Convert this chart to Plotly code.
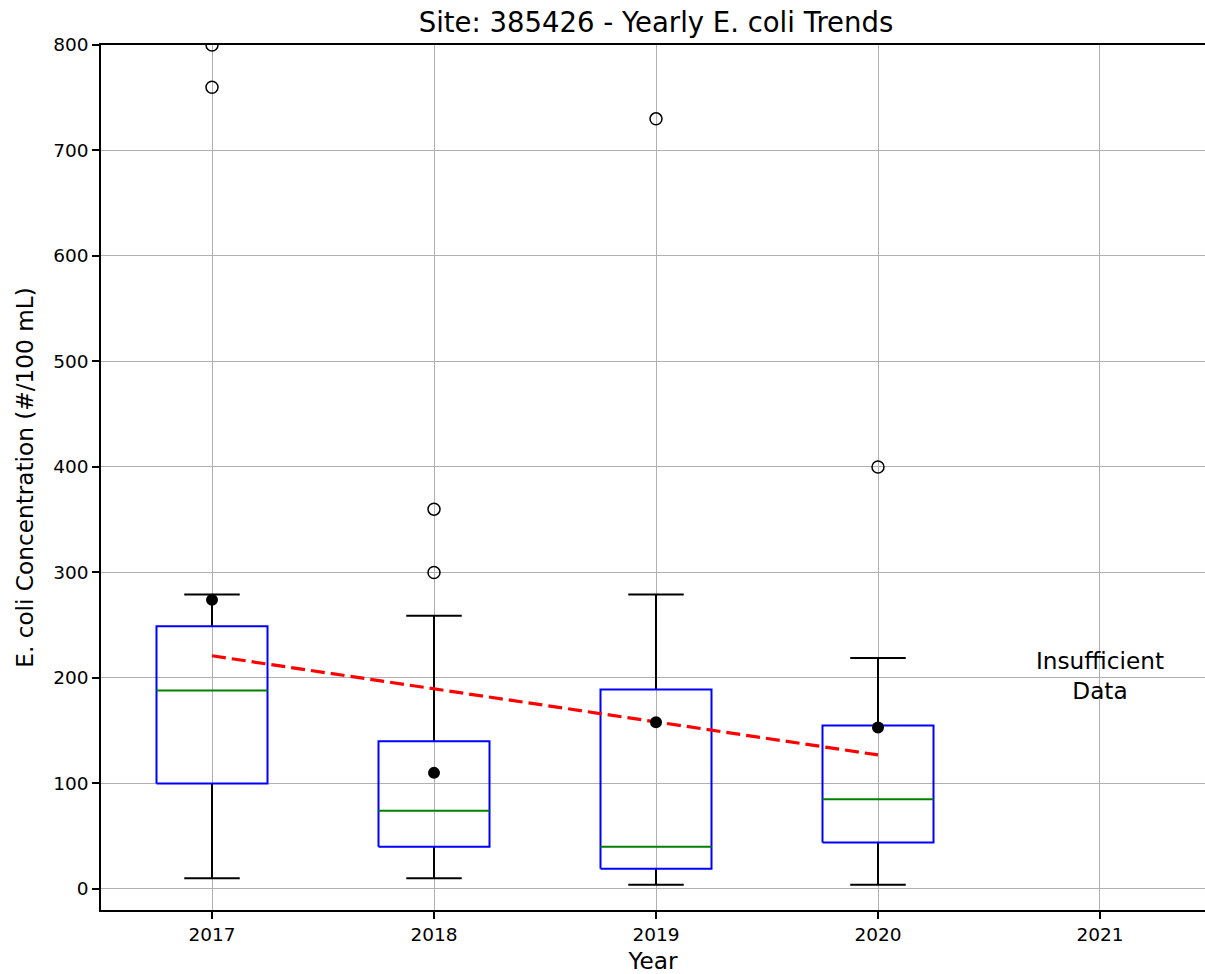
import plotly.graph_objects as go

# ---- data ----
years = [2017, 2018, 2019, 2020]
q1 = [100, 40, 19, 44]
medians = [188, 74, 40, 85]
q3 = [249, 140, 189, 155]
whisker_lo = [10, 10, 4, 4]
whisker_hi = [279, 259, 279, 219]
means = [274, 110, 158, 153]

outlier_years = [2017, 2017, 2018, 2018, 2019, 2020]
outlier_vals = [760, 800, 300, 360, 730, 400]

trend_years = [2017, 2020]
trend_vals = [221, 127]

tick_years = [2017, 2018, 2019, 2020, 2021]
y_ticks = [0, 100, 200, 300, 400, 500, 600, 700, 800]

note_year = 2021
note_val = 202
note_text = "Insufficient<br>Data"

# ---- style ----
BOX_W = 0.5
CAP_W = 0.25
FONT = "DejaVu Sans"
TICK_SIZE = 18.5
LABEL_SIZE = 23.2
TITLE_SIZE = 27.5

fig = go.Figure()

box_x, box_y = [], []
med_x, med_y = [], []
wh_x, wh_y = [], []
for yr, a, m, b, lo, hi in zip(years, q1, medians, q3, whisker_lo, whisker_hi):
    h = BOX_W / 2
    c = CAP_W / 2
    box_x += [yr - h, yr + h, yr + h, yr - h, yr - h, None]
    box_y += [a, a, b, b, a, None]
    med_x += [yr - h, yr + h, None]
    med_y += [m, m, None]
    wh_x += [yr, yr, None, yr, yr, None]
    wh_y += [a, lo, None, b, hi, None]
    wh_x += [yr - c, yr + c, None, yr - c, yr + c, None]
    wh_y += [lo, lo, None, hi, hi, None]

fig.add_trace(go.Scatter(x=wh_x, y=wh_y, mode="lines",
                         line=dict(color="black", width=2), hoverinfo="skip"))
fig.add_trace(go.Scatter(x=box_x, y=box_y, mode="lines",
                         line=dict(color="#0000ff", width=2), hoverinfo="skip"))
fig.add_trace(go.Scatter(x=med_x, y=med_y, mode="lines",
                         line=dict(color="#008000", width=2), hoverinfo="skip"))
fig.add_trace(go.Scatter(x=outlier_years, y=outlier_vals, mode="markers",
                         marker=dict(symbol="circle-open", size=12,
                                     color="black", line=dict(width=1.5))))
fig.add_trace(go.Scatter(x=trend_years, y=trend_vals, mode="lines",
                         line=dict(color="#ff0000", width=3.2, dash="14px,6px")))
fig.add_trace(go.Scatter(x=years, y=means, mode="markers",
                         marker=dict(symbol="circle", size=12, color="black")))

fig.add_annotation(x=note_year, y=note_val, text=note_text, showarrow=False,
                   xanchor="center", yanchor="middle", align="center",
                   font=dict(family=FONT, size=LABEL_SIZE, color="black"))

fig.update_layout(
    width=1205, height=974,
    margin=dict(l=101, r=0, t=45, b=64),
    paper_bgcolor="white", plot_bgcolor="white",
    showlegend=False,
    font=dict(family=FONT, color="black"),
    title=dict(text="Site: 385426 - Yearly E. coli Trends",
               x=0.5027, xref="paper", xanchor="center",
               y=1 - 22 / 974, yref="container", yanchor="middle",
               font=dict(family=FONT, size=TITLE_SIZE, color="black")),
)
fig.update_xaxes(
    range=[2016.5, 2021.473], tickvals=tick_years,
    ticktext=[str(t) for t in tick_years],
    showgrid=True, gridcolor="#b0b0b0", gridwidth=1.2,
    showline=True, linecolor="black", linewidth=1.5, mirror=True,
    ticks="outside", ticklen=7, tickcolor="black", tickwidth=1.5,
    tickfont=dict(family=FONT, size=TICK_SIZE, color="black"),
    zeroline=False,
    title=dict(text="Year", font=dict(family=FONT, size=LABEL_SIZE, color="black"),
               standoff=10),
)
fig.update_yaxes(
    range=[-20, 800], tickvals=y_ticks,
    showgrid=True, gridcolor="#b0b0b0", gridwidth=1.2,
    showline=True, linecolor="black", linewidth=1.5, mirror=False,
    ticks="outside", ticklen=7, tickcolor="black", tickwidth=1.5,
    tickfont=dict(family=FONT, size=TICK_SIZE, color="black"),
    zeroline=False,
    title=dict(text="E. coli Concentration (#/100 mL)",
               font=dict(family=FONT, size=LABEL_SIZE, color="black"), standoff=13),
)

fig.write_html("out.html",
               config={"displayModeBar": False},
               post_script="document.body.style.margin='0';document.body.style.overflow='hidden';")
